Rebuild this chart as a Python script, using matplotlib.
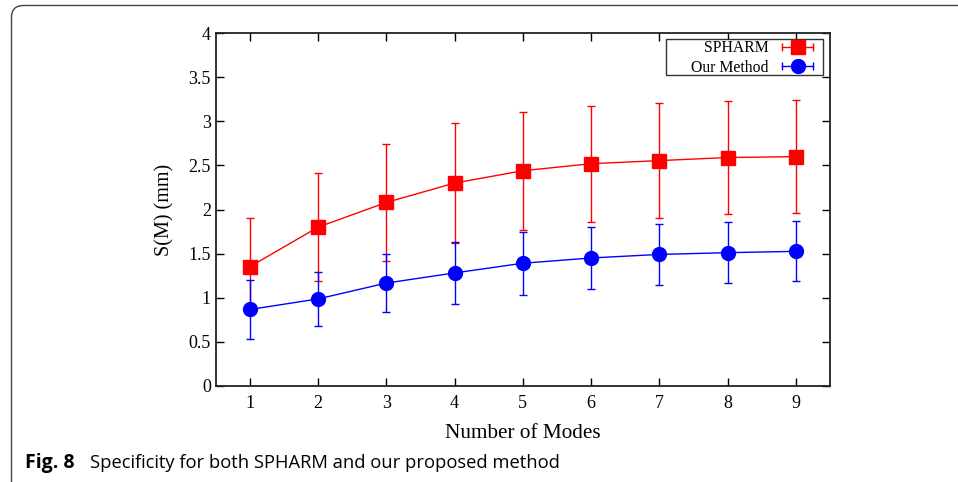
import matplotlib
matplotlib.use("Agg")
import matplotlib.pyplot as plt
from matplotlib.lines import Line2D
from matplotlib.patches import FancyBboxPatch, Rectangle
from matplotlib.transforms import IdentityTransform
from matplotlib.legend_handler import HandlerLine2D, HandlerTuple

# data
modes = [1, 2, 3, 4, 5, 6, 7, 8, 9]
spharm_mean = [1.35, 1.80, 2.08, 2.30, 2.44, 2.52, 2.555, 2.59, 2.60]
spharm_std = [0.55, 0.61, 0.66, 0.68, 0.67, 0.66, 0.655, 0.645, 0.64]
ours_mean = [0.865, 0.985, 1.165, 1.28, 1.39, 1.45, 1.49, 1.51, 1.525]
ours_std = [0.34, 0.31, 0.33, 0.35, 0.36, 0.35, 0.345, 0.345, 0.34]
yticks = [0, 0.5, 1, 1.5, 2, 2.5, 3, 3.5, 4]
ytick_labels = ["0", "0.5", "1", "1.5", "2", "2.5", "3", "3.5", "4"]

serif = "Liberation Serif"
W, H = 958, 482

fig = plt.figure(figsize=(W / 100, H / 100), dpi=100)
ax = fig.add_axes([215.7 / W, 1 - 385.7 / H, (830 - 215.7) / W, (385.7 - 33.3) / H])

# rounded frame around the figure (pixel coords, runs off right/bottom edge)
frame = FancyBboxPatch((11.5, -60), 2000, H - 5.5 + 60,
                       boxstyle="round,pad=0,rounding_size=12",
                       transform=IdentityTransform(), fill=False,
                       edgecolor="#444444", linewidth=1.0)
fig.patches.append(frame)

ax.errorbar(modes, spharm_mean, yerr=spharm_std, color="red", marker="s", ms=10,
            lw=1, elinewidth=1, capsize=3, capthick=1, zorder=3)
ax.errorbar(modes, ours_mean, yerr=ours_std, color="blue", marker="o", ms=10,
            lw=1, elinewidth=1, capsize=3, capthick=1, zorder=4)

ax.set_xlim(0.5, 9.5)
ax.set_ylim(0, 4)
ax.set_xticks(modes)
ax.set_xticklabels([str(m) for m in modes], fontfamily=serif, fontsize=13)
ax.set_yticks(yticks)
ax.set_yticklabels(ytick_labels, fontfamily=serif, fontsize=13)
ax.tick_params(direction="in", length=6, width=1, top=True, right=True)
ax.tick_params(axis="x", pad=7)
ax.tick_params(axis="y", pad=3.5)
for sp in ax.spines.values():
    sp.set_linewidth(1.3)
    sp.set_color("#222222")

ax.set_xlabel("Number of Modes", fontfamily=serif, fontsize=15.3, labelpad=8)
ax.set_ylabel("S(M) (mm)", fontfamily=serif, fontsize=14.5, labelpad=10)

# key box drawn separately (gnuplot leaves extra room left of the labels)
key_box = Rectangle((666, H - 74.5), 157, 35.2, transform=IdentityTransform(),
                    fill=True, facecolor="white", edgecolor="#333333",
                    linewidth=1.0, zorder=5, clip_on=False)
ax.add_patch(key_box)

# gnuplot-style legend keys: horizontal bar with end caps + marker
bar_r = Line2D([], [], color="red", lw=1, marker="|", ms=6, mew=1)
mk_r = Line2D([], [], color="red", marker="s", ms=10, ls="none")
bar_b = Line2D([], [], color="blue", lw=1, marker="|", ms=6, mew=1)
mk_b = Line2D([], [], color="blue", marker="o", ms=10, ls="none")
leg = ax.legend([(bar_r, mk_r), (bar_b, mk_b)], ["SPHARM", "Our Method"],
                handler_map={bar_r: HandlerLine2D(numpoints=2),
                             bar_b: HandlerLine2D(numpoints=2),
                             tuple: HandlerTuple(ndivide=1, pad=0)},
                loc="upper right", bbox_to_anchor=(818 / W, 1 - 40.5 / H),
                bbox_transform=fig.transFigure, borderaxespad=0,
                markerfirst=False, frameon=False, handlelength=2.6,
                handletextpad=0.55, borderpad=0, labelspacing=0.22,
                prop={"family": serif, "size": 11.3})
leg.set_zorder(10)

# caption
fig.text(25 / W, 1 - 468 / H, "Fig. 8", fontfamily="Open Sans", fontweight="bold",
         fontsize=14, va="baseline")
fig.text(90 / W, 1 - 468 / H, "Specificity for both SPHARM and our proposed method",
         fontfamily="Open Sans", fontsize=13.2, va="baseline")

fig.savefig("out.png", dpi=100)
